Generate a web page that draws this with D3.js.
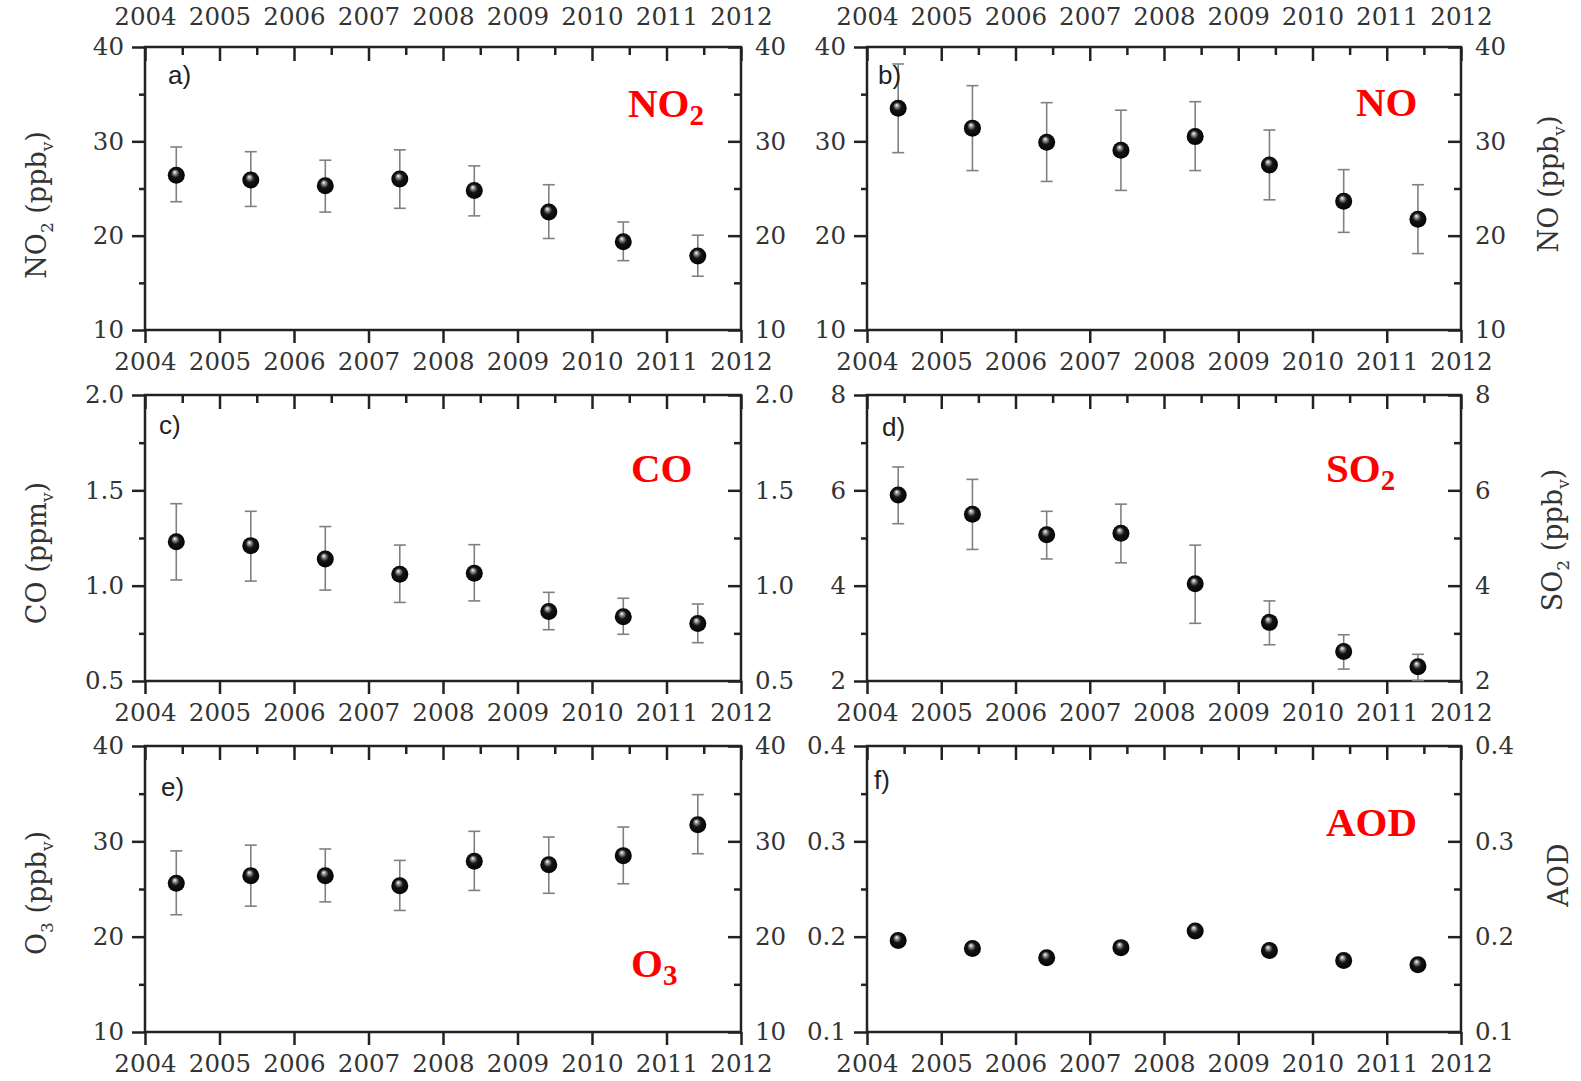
<!DOCTYPE html>
<html lang="en">
<meta charset="utf-8">
<title>Trace gases and AOD, 2004-2011</title>
<script src="https://d3js.org/d3.v7.min.js"></script>
<style>
  body { margin: 0; background: #fff; }
  .axis .tick text { font-family: "DejaVu Serif", serif; font-size: 24.5px; fill: #333; }
  .axis path.domain { display: none; }
  .axis line { stroke: #222; stroke-width: 2.5; }
</style>
<svg width="1581" height="1081"></svg>
<script>
// data (annual means, error bar ends)
var sampleYears = [2004.42, 2005.42, 2006.42, 2007.42, 2008.42, 2009.42, 2010.42, 2011.42];
var yearTicks = [2004, 2005, 2006, 2007, 2008, 2009, 2010, 2011, 2012];

var no2Mean = [26.4, 25.9, 25.3, 26.0, 24.8, 22.5, 19.35, 17.85];
var no2Hi   = [29.4, 28.9, 28.0, 29.1, 27.4, 25.4, 21.45, 20.05];
var no2Lo   = [23.6, 23.1, 22.5, 22.9, 22.1, 19.7, 17.35, 15.7];

var noMean = [33.5, 31.4, 29.9, 29.05, 30.5, 27.5, 23.65, 21.75];
var noHi   = [38.2, 35.9, 34.1, 33.3, 34.2, 31.2, 27.0, 25.4];
var noLo   = [28.8, 26.9, 25.75, 24.8, 26.9, 23.8, 20.35, 18.1];

var coMean = [1.23, 1.21, 1.14, 1.06, 1.065, 0.865, 0.837, 0.802];
var coHi   = [1.43, 1.39, 1.31, 1.213, 1.215, 0.965, 0.934, 0.904];
var coLo   = [1.03, 1.024, 0.977, 0.912, 0.92, 0.769, 0.745, 0.701];

var so2Mean = [5.9, 5.5, 5.07, 5.1, 4.04, 3.23, 2.62, 2.3];
var so2Hi   = [6.49, 6.23, 5.56, 5.71, 4.85, 3.68, 2.97, 2.56];
var so2Lo   = [5.30, 4.76, 4.56, 4.48, 3.21, 2.76, 2.25, 2.01];

var o3Mean = [25.6, 26.4, 26.4, 25.35, 27.9, 27.55, 28.5, 31.75];
var o3Hi   = [29.0, 29.6, 29.2, 28.0, 31.05, 30.45, 31.5, 34.9];
var o3Lo   = [22.3, 23.2, 23.65, 22.75, 24.85, 24.55, 25.55, 28.7];

var aodMean = [0.196, 0.1875, 0.178, 0.1885, 0.206, 0.1855, 0.175, 0.1705];

var ppbTicks = [10, 20, 30, 40], ppbMinor = [15, 25, 35];
var coTicks = [0.5, 1.0, 1.5, 2.0], coMinor = [0.75, 1.25, 1.75];
var so2Ticks = [2, 4, 6, 8], so2Minor = [3, 5, 7];
var aodTicks = [0.1, 0.2, 0.3, 0.4], aodMinor = [0.15, 0.25, 0.35];

var svg = d3.select("svg");

var defs = svg.append("defs");
var grad = defs.append("radialGradient").attr("id", "ball")
    .attr("cx", 0.5).attr("cy", 0.5).attr("r", 0.55).attr("fx", 0.4).attr("fy", 0.3);
grad.append("stop").attr("offset", "0%").attr("stop-color", "#ffffff");
grad.append("stop").attr("offset", "18%").attr("stop-color", "#9a9a9a");
grad.append("stop").attr("offset", "45%").attr("stop-color", "#151515");
grad.append("stop").attr("offset", "100%").attr("stop-color", "#000");

var cols = [[145, 741], [867, 1461]];
var rows = [[47, 330], [395, 681], [746, 1032]];

var panels = [
  {col: 0, row: 0, mean: no2Mean, hi: no2Hi, lo: no2Lo, ticks: ppbTicks, minor: ppbMinor, fmt: "d",
   letter: "a)", lx: 168, ly: 84, name: [["NO", 0], ["2", 1]], nx: 628, ny: 117,
   title: [["NO", 0], ["2", 1], [" (ppb", 0], ["v", 1], [")", 0]], side: "left", tx: 46, ty: 205, top: true},
  {col: 1, row: 0, mean: noMean, hi: noHi, lo: noLo, ticks: ppbTicks, minor: ppbMinor, fmt: "d",
   letter: "b)", lx: 878, ly: 84, name: [["NO", 0]], nx: 1356, ny: 116,
   title: [["NO (ppb", 0], ["v", 1], [")", 0]], side: "right", tx: 1558, ty: 184, top: true},
  {col: 0, row: 1, mean: coMean, hi: coHi, lo: coLo, ticks: coTicks, minor: coMinor, fmt: ".1f",
   letter: "c)", lx: 159, ly: 434, name: [["CO", 0]], nx: 631, ny: 482,
   title: [["CO (ppm", 0], ["v", 1], [")", 0]], side: "left", tx: 46, ty: 553},
  {col: 1, row: 1, mean: so2Mean, hi: so2Hi, lo: so2Lo, ticks: so2Ticks, minor: so2Minor, fmt: "d",
   letter: "d)", lx: 882, ly: 436, name: [["SO", 0], ["2", 1]], nx: 1326, ny: 482,
   title: [["SO", 0], ["2", 1], [" (ppb", 0], ["v", 1], [")", 0]], side: "right", tx: 1562, ty: 540},
  {col: 0, row: 2, mean: o3Mean, hi: o3Hi, lo: o3Lo, ticks: ppbTicks, minor: ppbMinor, fmt: "d",
   letter: "e)", lx: 161, ly: 796, name: [["O", 0], ["3", 1]], nx: 631, ny: 977,
   title: [["O", 0], ["3", 1], [" (ppb", 0], ["v", 1], [")", 0]], side: "left", tx: 46, ty: 893},
  {col: 1, row: 2, mean: aodMean, ticks: aodTicks, minor: aodMinor, fmt: ".1f",
   letter: "f)", lx: 874, ly: 789, name: [["AOD", 0]], nx: 1326, ny: 836,
   title: [["AOD", 0]], side: "right", tx: 1568, ty: 875}
];

panels.forEach(function(p) {
  var x0 = cols[p.col][0], x1 = cols[p.col][1];
  var y0 = rows[p.row][0], y1 = rows[p.row][1];
  var x = d3.scaleLinear().domain([2004, 2012]).range([x0, x1]);
  var y = d3.scaleLinear().domain([p.ticks[0], p.ticks[p.ticks.length - 1]]).range([y1, y0]);
  var fmt = d3.format(p.fmt);
  var g = svg.append("g");

  // bottom axis: ticks outward
  g.append("g").attr("class", "axis").attr("transform", "translate(0," + y1 + ")")
    .call(d3.axisBottom(x).tickValues(yearTicks).tickFormat(d3.format("d"))
      .tickSizeInner(13).tickSizeOuter(0).tickPadding(10));
  // top axis: ticks inward, labels only on first row
  var topAx = d3.axisTop(x).tickValues(yearTicks).tickSizeInner(-14).tickSizeOuter(0).tickPadding(22)
    .tickFormat(p.top ? d3.format("d") : "");
  g.append("g").attr("class", "axis").attr("transform", "translate(0," + y0 + ")").call(topAx);
  g.append("g").attr("class", "axis").attr("transform", "translate(0," + y0 + ")")
    .call(d3.axisTop(x).tickValues(yearTicks.slice(0, -1).map(function(v) { return v + 0.5; }))
      .tickSizeInner(-8).tickSizeOuter(0).tickFormat(""));
  // left axis: ticks outward
  g.append("g").attr("class", "axis").attr("transform", "translate(" + x0 + ",0)")
    .call(d3.axisLeft(y).tickValues(p.ticks).tickFormat(fmt).tickSizeInner(13).tickSizeOuter(0).tickPadding(8));
  g.append("g").attr("class", "axis").attr("transform", "translate(" + x0 + ",0)")
    .call(d3.axisLeft(y).tickValues(p.minor).tickFormat("").tickSizeInner(6).tickSizeOuter(0));
  // right axis: ticks inward
  g.append("g").attr("class", "axis").attr("transform", "translate(" + x1 + ",0)")
    .call(d3.axisRight(y).tickValues(p.ticks).tickFormat(fmt).tickSizeInner(-13).tickSizeOuter(0).tickPadding(14));
  g.append("g").attr("class", "axis").attr("transform", "translate(" + x1 + ",0)")
    .call(d3.axisRight(y).tickValues(p.minor).tickFormat("").tickSizeInner(-7).tickSizeOuter(0));

  g.append("rect").attr("x", x0).attr("y", y0).attr("width", x1 - x0).attr("height", y1 - y0)
    .attr("fill", "none").attr("stroke", "#222").attr("stroke-width", 2.5);

  // error bars
  if (p.hi) {
    var eb = g.append("g").attr("stroke", "#808080").attr("stroke-width", 1.6).attr("fill", "none");
    sampleYears.forEach(function(yr, i) {
      var cx = x(yr);
      eb.append("line").attr("x1", cx).attr("x2", cx).attr("y1", y(p.lo[i])).attr("y2", y(p.hi[i]));
      eb.append("line").attr("x1", cx - 6).attr("x2", cx + 6).attr("y1", y(p.lo[i])).attr("y2", y(p.lo[i]));
      eb.append("line").attr("x1", cx - 6).attr("x2", cx + 6).attr("y1", y(p.hi[i])).attr("y2", y(p.hi[i]));
    });
  }

  g.selectAll("circle.pt").data(p.mean).enter().append("circle")
    .attr("class", "pt")
    .attr("cx", function(d, i) { return x(sampleYears[i]); })
    .attr("cy", function(d) { return y(d); })
    .attr("r", 8.5)
    .attr("fill", "url(#ball)");

  // panel letter
  g.append("text").attr("x", p.lx).attr("y", p.ly)
    .style("font-family", "'Liberation Sans', Arial, sans-serif").style("font-size", "26px")
    .attr("fill", "#222").text(p.letter);

  // red species name
  var nm = g.append("text").attr("x", p.nx).attr("y", p.ny)
    .style("font-family", "'Liberation Serif', 'Times New Roman', serif").style("font-size", "41px")
    .style("font-weight", "bold").attr("fill", "#ff0000");
  nm.selectAll("tspan").data(p.name).enter().append("tspan")
    .style("font-size", function(d) { return d[1] ? "29px" : null; })
    .attr("dy", function(d, i) { return d[1] ? 8 : (i > 0 && p.name[i - 1][1] ? -8 : 0); })
    .text(function(d) { return d[0]; });

  // axis title, rotated
  var tt = g.append("text").attr("transform", "translate(" + p.tx + "," + p.ty + ") rotate(-90)")
    .attr("text-anchor", "middle")
    .style("font-family", "'DejaVu Serif', serif").style("font-size", "27px").attr("fill", "#333");
  tt.selectAll("tspan").data(p.title).enter().append("tspan")
    .style("font-size", function(d) { return d[1] ? "17px" : null; })
    .attr("dy", function(d, i) { return d[1] ? 7 : (i > 0 && p.title[i - 1][1] ? -7 : 0); })
    .text(function(d) { return d[0]; });
});
</script>
</html>
